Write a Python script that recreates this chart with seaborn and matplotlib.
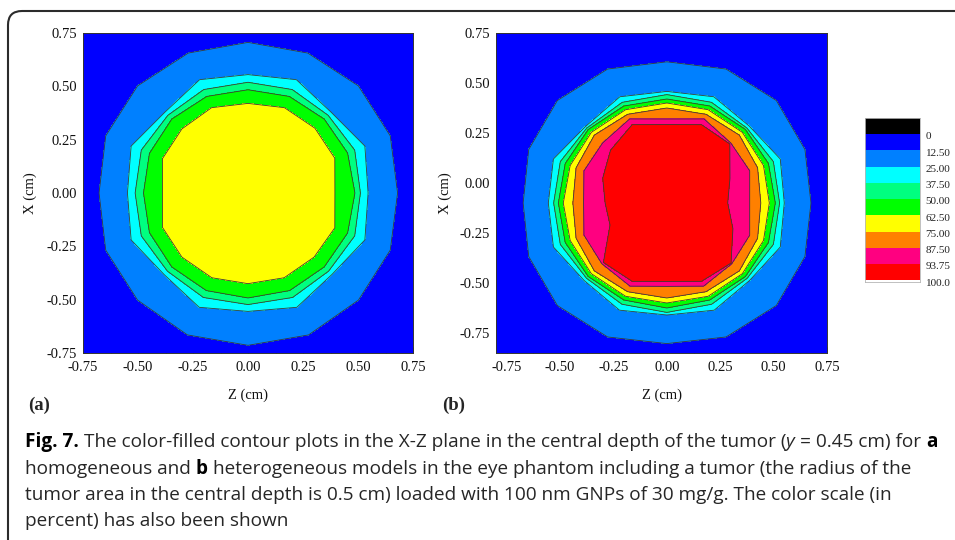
"""
Colour-filled isodose contours in the X-Z plane (central depth of the tumour)
for the homogeneous (a) and heterogeneous (b) eye-phantom models.
"""

import matplotlib
matplotlib.use("Agg")
import matplotlib.pyplot as plt
import numpy as np
import seaborn as sns
from matplotlib.colors import ListedColormap
from matplotlib.patches import FancyBboxPatch
from matplotlib.ticker import AutoMinorLocator
from matplotlib.transforms import IdentityTransform

# Colour scale (percent)
LEVELS = [0, 12.5, 25, 37.5, 50, 62.5, 75, 87.5, 93.75, 100]
SCALE_LABELS = ["0", "12.50", "25.00", "37.50", "50.00", "62.50", "75.00", "87.50", "93.75", "100.0"]
SCALE_COLORS = ["#000000", "#0000ff", "#0080ff", "#00ffff", "#00ff80",
                "#00ff00", "#ffff00", "#ff8000", "#ff0080", "#ff0000"]

# Directions (deg, counter-clockwise from +Z) in which the isodose radii were read
ANGLES = [0, 22.5, 45, 67.5, 90, 112.5, 135, 157.5, 180, 202.5, 225, 247.5, 270, 292.5, 315, 337.5]
BACKGROUND_DOSE = 5.0
OUTER_RADIUS = 1.4

# (a) homogeneous model
CENTER_A = (0.0, 0.0)          # (Z, X) in cm
PEAK_A = 72.0
ISO_LEVELS_A = [62.5, 50, 37.5, 25, 12.5]
ISO_RADII_A = [
    [0.395, 0.427, 0.430, 0.433, 0.420, 0.433, 0.425, 0.421, 0.389, 0.421, 0.425, 0.430, 0.425, 0.430, 0.425, 0.427],
    [0.486, 0.490, 0.490, 0.490, 0.484, 0.490, 0.490, 0.485, 0.475, 0.485, 0.490, 0.495, 0.492, 0.495, 0.490, 0.490],
    [0.511, 0.525, 0.515, 0.525, 0.519, 0.525, 0.515, 0.525, 0.513, 0.525, 0.518, 0.530, 0.523, 0.530, 0.518, 0.525],
    [0.546, 0.575, 0.535, 0.575, 0.555, 0.575, 0.535, 0.575, 0.548, 0.575, 0.540, 0.580, 0.555, 0.580, 0.540, 0.575],
    [0.680, 0.700, 0.710, 0.710, 0.706, 0.710, 0.710, 0.700, 0.677, 0.700, 0.710, 0.720, 0.714, 0.720, 0.710, 0.700],
]

# (b) heterogeneous model
CENTER_B = (0.0, -0.10)
PEAK_B = 100.0
ISO_LEVELS_B = [93.75, 87.5, 75, 62.5, 50, 37.5, 25, 12.5]
ISO_RADII_B = [
    [0.285, 0.320, 0.417, 0.424, 0.392, 0.424, 0.373, 0.325, 0.289, 0.288, 0.420, 0.424, 0.392, 0.424, 0.425, 0.335],
    [0.388, 0.420, 0.424, 0.455, 0.420, 0.455, 0.425, 0.420, 0.390, 0.420, 0.430, 0.450, 0.417, 0.450, 0.430, 0.420],
    [0.440, 0.460, 0.480, 0.480, 0.475, 0.480, 0.480, 0.460, 0.440, 0.460, 0.480, 0.480, 0.475, 0.480, 0.480, 0.460],
    [0.480, 0.490, 0.500, 0.505, 0.500, 0.505, 0.500, 0.490, 0.485, 0.490, 0.500, 0.505, 0.500, 0.505, 0.500, 0.490],
    [0.508, 0.515, 0.520, 0.525, 0.520, 0.525, 0.520, 0.515, 0.508, 0.515, 0.520, 0.525, 0.525, 0.525, 0.520, 0.515],
    [0.528, 0.540, 0.530, 0.545, 0.542, 0.545, 0.530, 0.540, 0.530, 0.540, 0.532, 0.548, 0.547, 0.548, 0.532, 0.540],
    [0.550, 0.575, 0.545, 0.575, 0.558, 0.575, 0.540, 0.575, 0.555, 0.575, 0.548, 0.580, 0.560, 0.580, 0.548, 0.575],
    [0.675, 0.700, 0.725, 0.725, 0.706, 0.725, 0.725, 0.700, 0.673, 0.700, 0.725, 0.725, 0.703, 0.725, 0.725, 0.700],
]

TICKS = [-0.75, -0.50, -0.25, 0.00, 0.25, 0.50, 0.75]

CAPTION_LINES = [
    [("Fig. 7.", "bold"), " ", ("The color-filled contour plots in the X-Z plane in the central depth of the tumor (", "normal"),
     ("y", "italic"), ("= 0.45 cm) for", "normal"), " ", ("a", "bold")],
    [("homogeneous and", "normal"), " ", ("b", "bold"), " ",
     ("heterogeneous models in the eye phantom including a tumor (the radius of the", "normal")],
    [("tumor area in the central depth is 0.5 cm) loaded with 100 nm GNPs of 30 mg/g. The color scale (in", "normal")],
    [("percent) has also been shown", "normal")],
]

W, H = 955, 540
SERIF = ["Liberation Serif", "DejaVu Serif"]
CAPTION_FONT = ["Open Sans", "DejaVu Sans"]

sns.set_theme(style="ticks")
plt.rcParams["font.family"] = SERIF


def build_field(center, peak, iso_levels, iso_radii):
    """Structured polar grid: centre, isodose crossings, then background."""
    theta = np.deg2rad(ANGLES + [360.0])
    radii = np.asarray(iso_radii)
    radii = np.hstack([radii, radii[:, :1]])
    n = theta.size
    r = np.vstack([np.zeros(n), radii, np.full(n, OUTER_RADIUS)])
    dose = np.array([peak] + list(iso_levels) + [BACKGROUND_DOSE])[:, None] * np.ones(n)
    zz = center[0] + r * np.cos(theta)
    xx = center[1] + r * np.sin(theta)
    return zz, xx, dose


def draw_panel(ax, field, xlim, ylim, ylabel_pad):
    zz, xx, dose = field
    ax.contourf(zz, xx, dose, levels=LEVELS, colors=SCALE_COLORS[1:])
    ax.contour(zz, xx, dose, levels=LEVELS[1:-1], colors="#3a3a3a", linewidths=0.6)
    ax.set_xlim(*xlim)
    ax.set_ylim(*ylim)
    ax.set_xticks(TICKS)
    ax.set_yticks(TICKS)
    ax.set_xticklabels([f"{t:.2f}" for t in TICKS])
    ax.set_yticklabels([f"{t:.2f}" for t in TICKS])
    ax.xaxis.set_minor_locator(AutoMinorLocator(2))
    ax.yaxis.set_minor_locator(AutoMinorLocator(2))
    ax.tick_params(which="both", direction="in", color="#222222", width=0.7,
                   labelsize=10.5, labelcolor="#111111")
    ax.tick_params(which="major", length=4)
    ax.tick_params(which="minor", length=2.5)
    ax.tick_params(axis="x", pad=6)
    ax.tick_params(axis="y", pad=4.5)
    ax.set_xlabel("Z (cm)", fontsize=10.5, labelpad=10, color="#111111")
    ax.set_ylabel("X (cm)", fontsize=10.5, labelpad=ylabel_pad, color="#111111")
    for s in ax.spines.values():
        s.set_linewidth(0.7)
        s.set_color("#333333")


def text_width(fig, renderer, s, **kw):
    t = fig.text(0, 0, s, **kw)
    w = t.get_window_extent(renderer).width
    t.remove()
    return w


def style_kw(style, size):
    kw = dict(fontsize=size, family=CAPTION_FONT, color="#262626")
    if style == "bold":
        kw["weight"] = "bold"
        kw["color"] = "#000000"
    elif style == "italic":
        kw["style"] = "italic"
    return kw


def space_width(fig, renderer, size):
    kw = style_kw("normal", size)
    return text_width(fig, renderer, "x x", **kw) - text_width(fig, renderer, "xx", **kw)


def line_width(fig, renderer, tokens, size):
    total = 0.0
    space = space_width(fig, renderer, size)
    for tok in tokens:
        if tok == " ":
            total += space
        else:
            total += text_width(fig, renderer, tok[0], **style_kw(tok[1], size))
            if tok[1] == "italic":
                total += space
    return total


def draw_caption(fig, renderer, x0, baselines, target_width):
    size = 10.0 * target_width / line_width(fig, renderer, CAPTION_LINES[0], 10.0)
    space = space_width(fig, renderer, size)
    for tokens, y in zip(CAPTION_LINES, baselines):
        x = x0
        for tok in tokens:
            if tok == " ":
                x += space
                continue
            t = fig.text(x / W, 1 - y / H, tok[0], va="baseline", ha="left",
                         **style_kw(tok[1], size))
            x += t.get_window_extent(renderer).width
            if tok[1] == "italic":
                x += space


def main():
    fig = plt.figure(figsize=(W / 100, H / 100), dpi=100)
    renderer = fig.canvas.get_renderer()

    ax_a = fig.add_axes([83 / W, 1 - 353 / H, 330 / W, 320 / H])
    ax_b = fig.add_axes([496 / W, 1 - 353 / H, 331 / W, 320 / H])
    draw_panel(ax_a, build_field(CENTER_A, PEAK_A, ISO_LEVELS_A, ISO_RADII_A),
               (-0.75, 0.75), (-0.75, 0.75), 7)
    draw_panel(ax_b, build_field(CENTER_B, PEAK_B, ISO_LEVELS_B, ISO_RADII_B),
               (-0.80, 0.75), (-0.85, 0.75), 5)

    fig.text(39 / W, 1 - 405 / H, "(a)", fontsize=13.5, weight="bold", ha="center", va="center")
    fig.text(454 / W, 1 - 405 / H, "(b)", fontsize=13.5, weight="bold", ha="center", va="center")

    # colour scale as a one-column heatmap
    ax_cb = fig.add_axes([865 / W, 1 - 282 / H, 55 / W, 164 / H])
    cells = np.arange(len(SCALE_COLORS)).reshape(-1, 1)
    sns.heatmap(cells, cmap=ListedColormap(SCALE_COLORS), vmin=-0.5, vmax=len(SCALE_COLORS) - 0.5,
                cbar=False, ax=ax_cb, xticklabels=False, yticklabels=False)
    ax_cb.yaxis.tick_right()
    ax_cb.set_yticks(np.arange(1, len(SCALE_LABELS) + 1) + 0.1)
    ax_cb.set_yticklabels(SCALE_LABELS, rotation=0)
    ax_cb.tick_params(axis="y", length=0, pad=4, labelsize=8, labelcolor="#222222")
    for s in ax_cb.spines.values():
        s.set_visible(True)
        s.set_color("#b5b5b5")
        s.set_linewidth(0.6)

    # rounded frame around the figure (open at right and bottom)
    frame = FancyBboxPatch((8, -60), 1100, H - 11 + 60, boxstyle="round,pad=0,rounding_size=14",
                           transform=IdentityTransform(), fill=False, edgecolor="#2b2b2b",
                           linewidth=1.5, clip_on=False)
    fig.patches.append(frame)

    draw_caption(fig, renderer, 25, [447, 473.5, 500, 526.5], 913)

    fig.savefig("out.png", dpi=100)
    plt.close(fig)


if __name__ == "__main__":
    main()
